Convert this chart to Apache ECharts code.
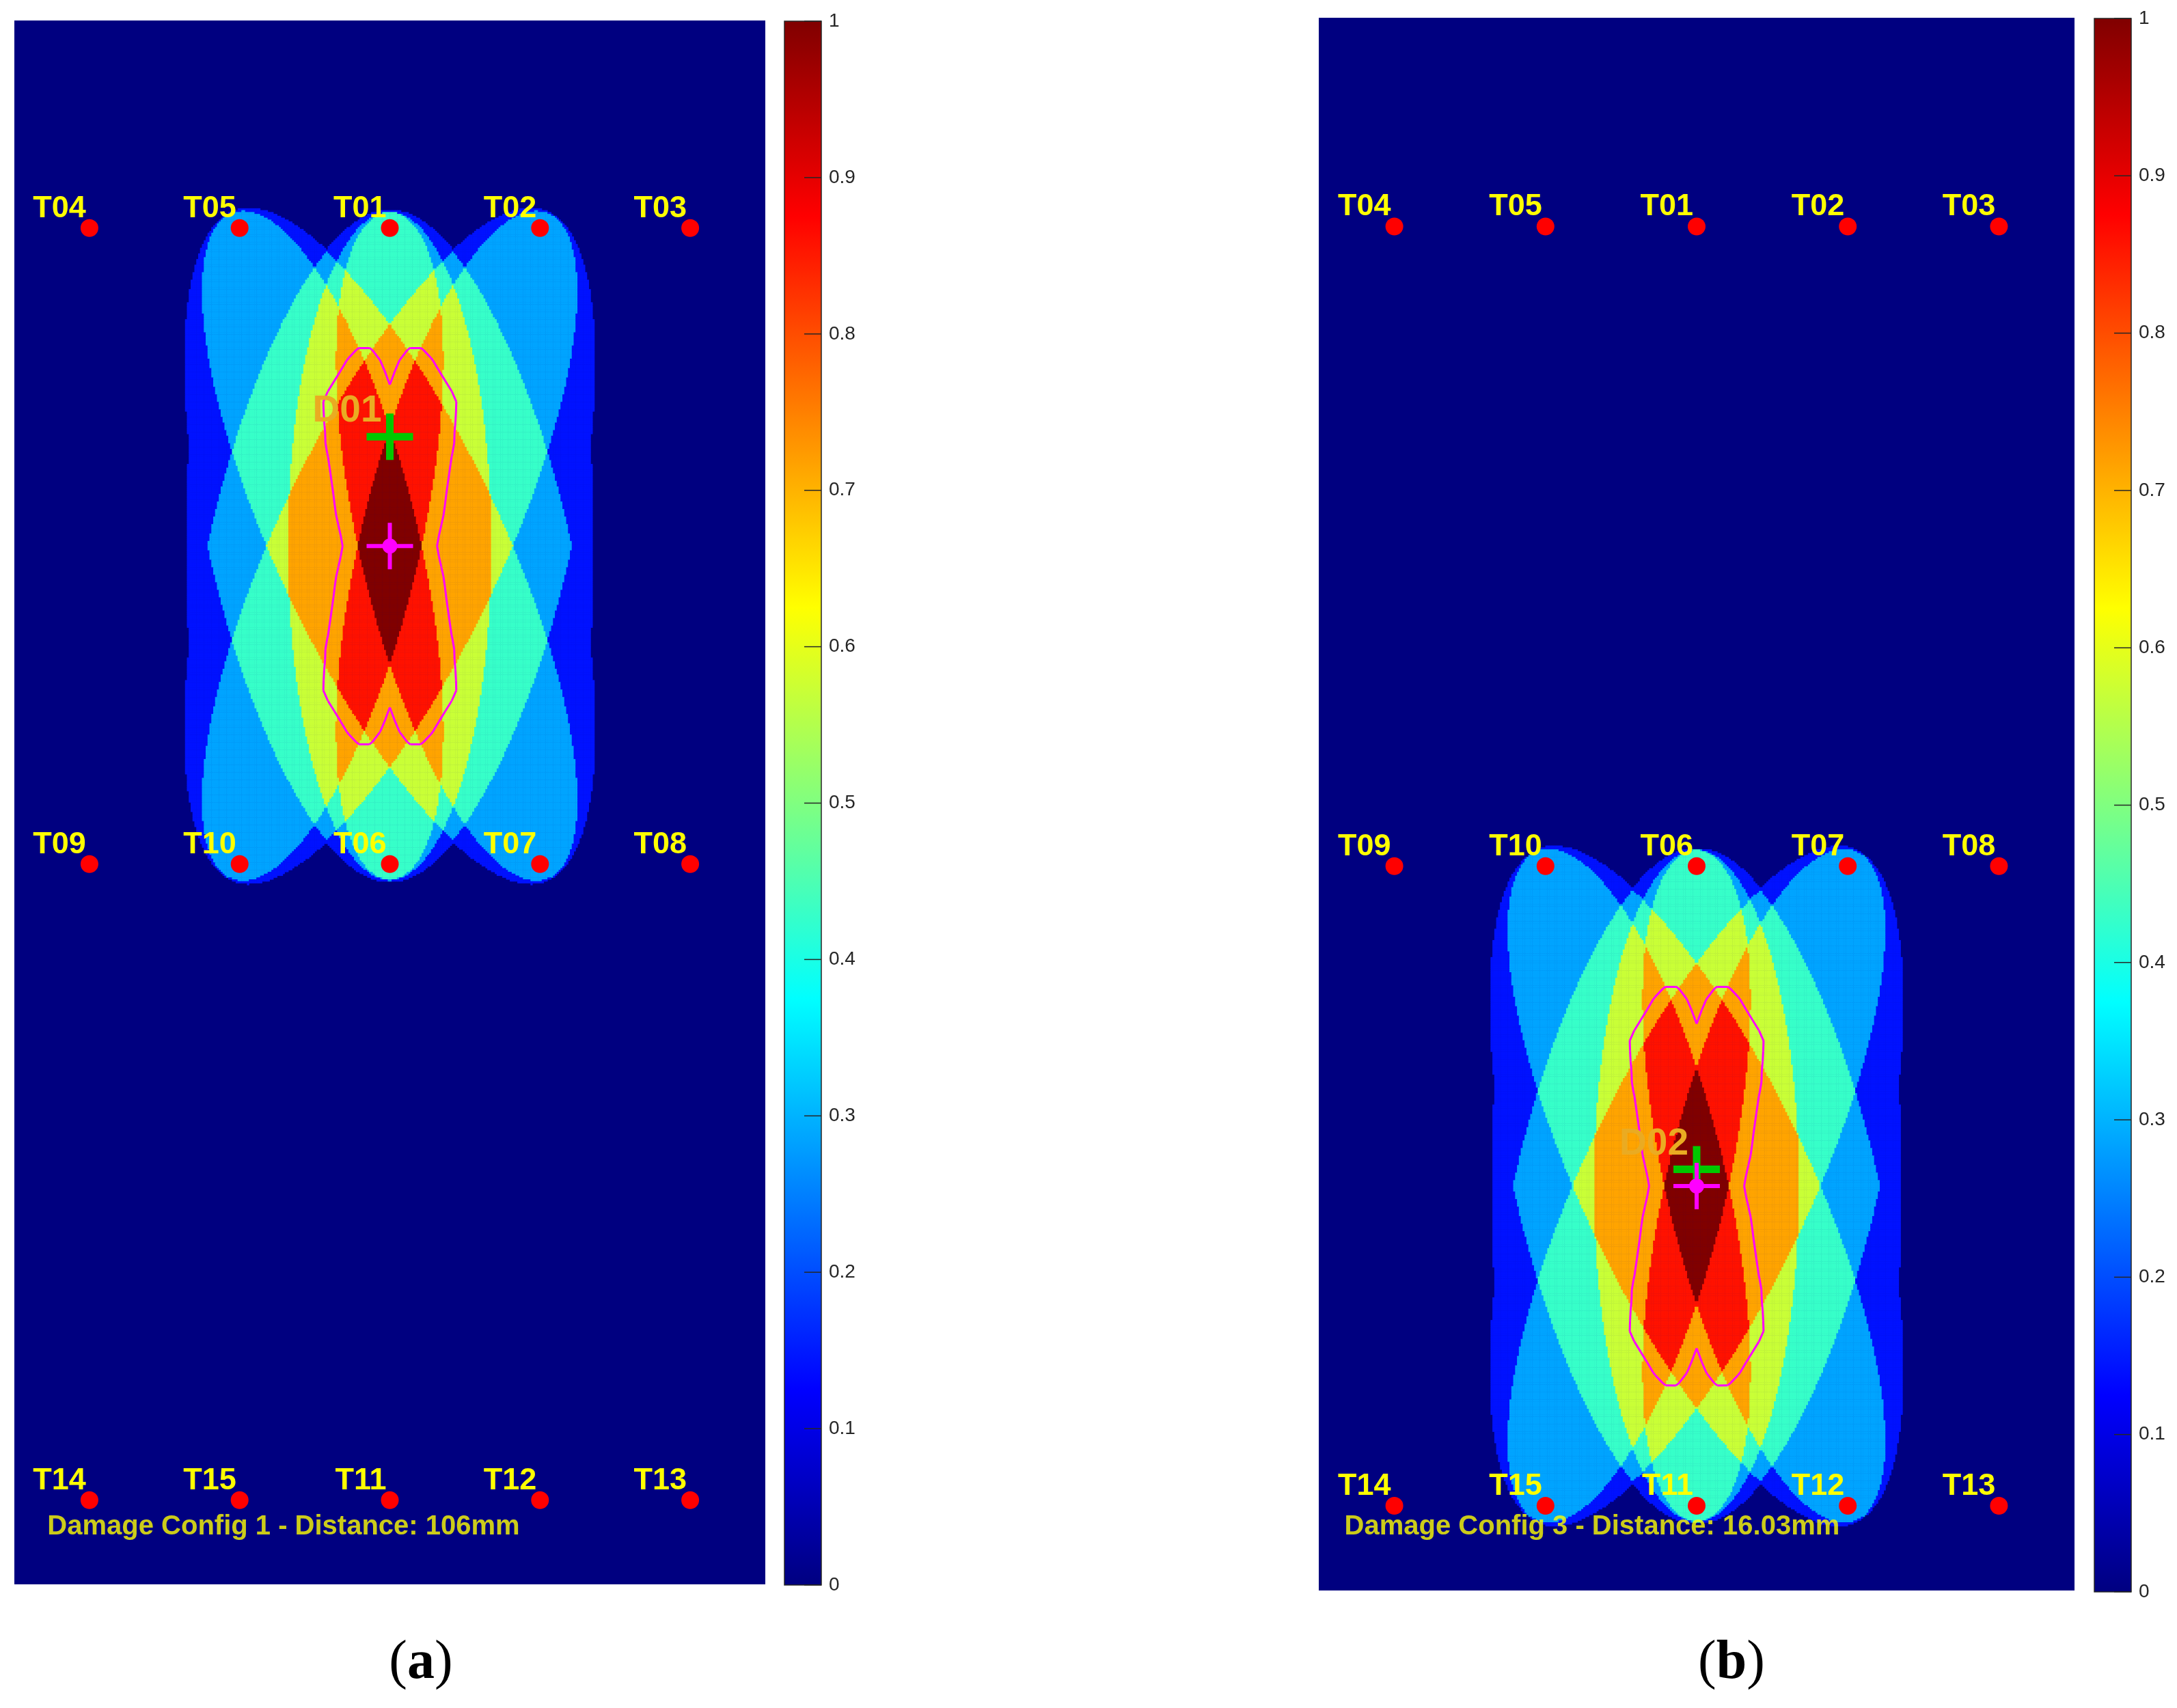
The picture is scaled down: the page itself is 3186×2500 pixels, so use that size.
<!DOCTYPE html>
<html>
<head>
<meta charset="utf-8">
<script src="https://cdn.jsdelivr.net/npm/echarts@6/dist/echarts.min.js"></script>
<style>
html, body { margin: 0; padding: 0; background: #fff; }
#main { width: 3186px; height: 2500px; }
</style>
</head>
<body>
<div id="main"></div>
<script>
// plate units: x 0..500, y 0..1040 (y runs downward)
var colX = [50, 150, 250, 350, 450];
var rowY = [138, 561, 984];
var tNames = [
    ['T04', 'T05', 'T01', 'T02', 'T03'],
    ['T09', 'T10', 'T06', 'T07', 'T08'],
    ['T14', 'T15', 'T11', 'T12', 'T13']
];
// paths flagged as damaged in each configuration
var pathsA = [['T01', 'T06'], ['T05', 'T06'], ['T02', 'T06'], ['T01', 'T10'], ['T01', 'T07'], ['T05', 'T07'], ['T02', 'T10']];
var pathsB = [['T06', 'T11'], ['T10', 'T11'], ['T07', 'T11'], ['T06', 'T15'], ['T06', 'T12'], ['T10', 'T12'], ['T07', 'T15']];
// neighbouring paths that only show as the faint outer fringe
var weakA = [['T05', 'T10'], ['T02', 'T07']];
var weakB = [['T10', 'T15'], ['T07', 'T12']];
var beta = 1.05;      // ellipse size of each damaged path
var betaRim = 1.052;  // thin fringe around damaged paths
var betaWeak = 1.014; // fringe from the neighbouring paths
var outlineLevel = 6; // outline drawn round the cells reaching 6/7
var outlineGap = 10;  // its distance from those cells
var damageA = [250, 276.8], estA = [250, 349.5];
var damageB = [250, 761.5], estB = [250, 772.5];
var noteA = 'Damage Config 1 - Distance: 106mm';
var noteB = 'Damage Config 3 - Distance: 16.03mm';
var tickLabels = ['0', '0.1', '0.2', '0.3', '0.4', '0.5', '0.6', '0.7', '0.8', '0.9', '1'];

var jet = ['#000080', '#0000ff', '#0080ff', '#00ffff', '#80ff80', '#ffff00', '#ff8000', '#ff0000', '#800000'];

var panels = [
    { plate: [21, 30, 1099, 2289], bar: [1148, 31, 54, 2289], paths: pathsA, weak: weakA, dmg: damageA, est: estA,
      dname: 'D01', note: noteA, noteAt: [22, 1001.7], cap: 'a', capX: 616 },
    { plate: [1930, 26, 1106, 2302], bar: [3065, 27, 54, 2303], paths: pathsB, weak: weakB, dmg: damageB, est: estB,
      dname: 'D02', note: noteB, noteAt: [17, 998], cap: 'b', capX: 2534 }
];

var cell = 1.25;
var nx = 500 / cell, ny = 1040 / cell;
var xCats = [], yCats = [];
for (var i = 0; i < nx; i++) xCats.push(i);
for (var j = 0; j < ny; j++) yCats.push(j);

function findT(name) {
    for (var r = 0; r < tNames.length; r++) {
        var c = tNames[r].indexOf(name);
        if (c >= 0) return [colX[c], rowY[r]];
    }
}

function ellipses(paths) {
    return paths.map(function (p) {
        var a = findT(p[0]), b = findT(p[1]);
        return { a: a, b: b, L: Math.hypot(b[0] - a[0], b[1] - a[1]) };
    });
}

function ratio(e, x, y) {
    return (Math.hypot(x - e.a[0], y - e.a[1]) + Math.hypot(x - e.b[0], y - e.b[1])) / e.L;
}

function countAt(ells, weak, x, y) {
    var n = 0, rim = 0;
    ells.forEach(function (e) {
        var r = ratio(e, x, y);
        if (r < beta) n++;
        else if (r < betaRim) rim = 1;
    });
    if (!n && !rim) {
        weak.forEach(function (e) { if (ratio(e, x, y) < betaWeak) rim = 1; });
    }
    return Math.max(n, rim);
}

function heatData(ells, weak) {
    var out = [];
    for (var j = 0; j < ny; j++) {
        for (var i = 0; i < nx; i++) {
            var v = countAt(ells, weak, (i + 0.5) * cell, (j + 0.5) * cell);
            if (v > 0) out.push([i, j, v / ells.length]);
        }
    }
    return out;
}

// outline at a fixed distance round the high region (marching squares on a coarse grid)
function outline(ells, cx, cy) {
    var g = 6.86, hx = 10, hy = 24, win = 14;
    // fine mask of the high region, 1 unit cells
    var mx0 = Math.floor(cx - hx * g - win - 2), my0 = Math.floor(cy - hy * g - win - 2);
    var mw = Math.ceil(2 * (hx * g + win + 2)), mh = Math.ceil(2 * (hy * g + win + 2));
    var mask = new Uint8Array(mw * mh);
    for (var j = 0; j < mh; j++) {
        for (var i = 0; i < mw; i++) {
            if (countAt(ells, [], mx0 + i + 0.5, my0 + j + 0.5) >= outlineLevel) mask[j * mw + i] = 1;
        }
    }
    function dist(x, y) {
        var ci = Math.floor(x - mx0), cj = Math.floor(y - my0), best = win;
        for (var dj = -win; dj <= win; dj++) {
            for (var di = -win; di <= win; di++) {
                var ii = ci + di, jj = cj + dj;
                if (ii < 0 || jj < 0 || ii >= mw || jj >= mh || !mask[jj * mw + ii]) continue;
                var d = Math.hypot(mx0 + ii + 0.5 - x, my0 + jj + 0.5 - y);
                if (d < best) best = d;
            }
        }
        return best;
    }
    var x0 = cx - hx * g, y0 = cy - hy * g;
    var v = [];
    for (var j = 0; j <= 2 * hy; j++) {
        v.push([]);
        for (var i = 0; i <= 2 * hx; i++) v[j].push(outlineGap - dist(x0 + i * g, y0 + j * g));
    }
    function lerp(p, q, a, b) {
        var t = a / (a - b);
        return [p[0] + t * (q[0] - p[0]), p[1] + t * (q[1] - p[1])];
    }
    var segs = [];
    for (var j = 0; j < 2 * hy; j++) {
        for (var i = 0; i < 2 * hx; i++) {
            var P = [[x0 + i * g, y0 + j * g], [x0 + (i + 1) * g, y0 + j * g],
                     [x0 + (i + 1) * g, y0 + (j + 1) * g], [x0 + i * g, y0 + (j + 1) * g]];
            var V = [v[j][i], v[j][i + 1], v[j + 1][i + 1], v[j + 1][i]];
            var pts = [];
            for (var k = 0; k < 4; k++) {
                var k2 = (k + 1) % 4;
                if ((V[k] > 0) !== (V[k2] > 0)) pts.push(lerp(P[k], P[k2], V[k], V[k2]));
            }
            if (pts.length === 2) segs.push({ coords: [pts[0], pts[1]] });
            else if (pts.length === 4) {
                var c = (V[0] + V[1] + V[2] + V[3]) / 4 > 0;
                if (c === (V[0] > 0)) {
                    segs.push({ coords: [pts[0], pts[1]] });
                    segs.push({ coords: [pts[2], pts[3]] });
                } else {
                    segs.push({ coords: [pts[3], pts[0]] });
                    segs.push({ coords: [pts[1], pts[2]] });
                }
            }
        }
    }
    return segs;
}

var sensorData = [];
tNames.forEach(function (row, r) {
    row.forEach(function (n, c) { sensorData.push({ name: n, value: [colX[c], rowY[r]] }); });
});

var barStops = jet.map(function (c, k) { return { offset: k / (jet.length - 1), color: c }; });
var tickData = tickLabels.map(function (t) { return [1 - 12.5 / 54, parseFloat(t)]; });

var grids = [], xAxes = [], yAxes = [], series = [], visualMaps = [], graphics = [];
var txtFont = 'Liberation Sans';

panels.forEach(function (pn, p) {
    var pl = pn.plate, br = pn.bar;
    grids.push({ left: pl[0], top: pl[1], width: pl[2], height: pl[3], show: true,
                 backgroundColor: '#000080', borderWidth: 0 });
    grids.push({ left: pl[0], top: pl[1], width: pl[2], height: pl[3] });
    grids.push({ left: br[0], top: br[1], width: br[2], height: br[3], show: true,
                 backgroundColor: new echarts.graphic.LinearGradient(0, 1, 0, 0, barStops),
                 borderColor: '#262626', borderWidth: 1.5 });

    xAxes.push({ gridIndex: 3 * p, type: 'category', data: xCats, show: false });
    yAxes.push({ gridIndex: 3 * p, type: 'category', data: yCats, inverse: true, show: false });
    xAxes.push({ gridIndex: 3 * p + 1, type: 'value', min: 0, max: 500, show: false });
    yAxes.push({ gridIndex: 3 * p + 1, type: 'value', min: 0, max: 1040, inverse: true, show: false });
    xAxes.push({ gridIndex: 3 * p + 2, type: 'value', min: 0, max: 1, show: false });
    yAxes.push({
        gridIndex: 3 * p + 2, type: 'value', min: 0, max: 1, interval: 0.1, position: 'right',
        axisLine: { show: false },
        splitLine: { show: false },
        axisTick: { show: false },
        axisLabel: {
            show: true, margin: 11, fontSize: 28, color: '#262626', fontFamily: txtFont,
            formatter: function (v) { return tickLabels[Math.round(v * 10)]; }
        }
    });

    visualMaps.push({
        type: 'continuous', seriesIndex: p, min: 0, max: 1, dimension: 2, show: false,
        inRange: { color: jet }
    });

    graphics.push({
        type: 'text', x: pn.capX, y: 2435, z: 20,
        style: {
            text: '{p|(}{b|' + pn.cap + '}{p|)}', align: 'center', verticalAlign: 'middle',
            rich: {
                p: { fontFamily: 'Liberation Serif', fontSize: 80, fill: '#000' },
                b: { fontFamily: 'Liberation Serif', fontSize: 80, fontWeight: 'bold', fill: '#000' }
            }
        }
    });
});

// heatmaps first so that their indices are 0 and 1
panels.forEach(function (pn, p) {
    series.push({
        type: 'heatmap', xAxisIndex: 3 * p, yAxisIndex: 3 * p,
        data: heatData(ellipses(pn.paths), ellipses(pn.weak)),
        progressive: 0, silent: true, emphasis: { disabled: true }
    });
});

panels.forEach(function (pn, p) {
    var ax = 3 * p + 1;
    var ells = ellipses(pn.paths);
    series.push({
        type: 'lines', coordinateSystem: 'cartesian2d', xAxisIndex: ax, yAxisIndex: ax,
        data: outline(ells, pn.est[0], pn.est[1]), silent: true, z: 4,
        lineStyle: { color: '#ff00ff', width: 3, opacity: 1 }
    });
    series.push({
        type: 'scatter', xAxisIndex: ax, yAxisIndex: ax, data: sensorData, z: 5,
        symbol: 'circle', symbolSize: 26, itemStyle: { color: '#ff0000', opacity: 1 }, silent: true,
        label: {
            show: true, formatter: '{b}', position: [8, -15.5], align: 'right', verticalAlign: 'middle',
            color: '#ffff00', fontSize: 45, fontWeight: 'bold', fontFamily: txtFont
        }
    });
    series.push({
        type: 'scatter', xAxisIndex: ax, yAxisIndex: ax, z: 6, silent: true,
        data: [{ name: pn.dname, value: pn.dmg }],
        symbol: 'path://M28.5,0H39.5V28.5H68V39.5H39.5V68H28.5V39.5H0V28.5H28.5Z', symbolSize: 68,
        itemStyle: { color: '#00c800', opacity: 1 },
        label: {
            show: true, formatter: '{b}', position: [22, -3], align: 'right', verticalAlign: 'middle',
            color: '#eaab22', fontSize: 55, fontWeight: 'bold', fontFamily: txtFont
        }
    });
    series.push({
        type: 'scatter', xAxisIndex: ax, yAxisIndex: ax, z: 6, silent: true,
        data: [pn.est],
        symbol: 'path://M31,0H37V31H68V37H37V68H31V37H0V31H31Z', symbolSize: 68,
        itemStyle: { color: '#ff00ff', opacity: 1 }
    });
    series.push({
        type: 'scatter', xAxisIndex: ax, yAxisIndex: ax, z: 6, silent: true,
        data: [pn.est], symbol: 'circle', symbolSize: 22, itemStyle: { color: '#ff00ff', opacity: 1 }
    });
    series.push({
        type: 'scatter', xAxisIndex: ax, yAxisIndex: ax, z: 6, silent: true,
        data: [{ name: pn.note, value: pn.noteAt }], symbolSize: 0,
        label: {
            show: true, formatter: '{b}', position: [0, 0], align: 'left', verticalAlign: 'middle',
            color: '#ffff00', fontSize: 40, fontWeight: 'bold', fontFamily: txtFont
        }
    });
    // colour bar tick marks, drawn on the inner right edge
    series.push({
        type: 'scatter', xAxisIndex: 3 * p + 2, yAxisIndex: 3 * p + 2, z: 6, silent: true,
        data: tickData, symbol: 'rect', symbolSize: [25, 1.5], itemStyle: { color: '#262626', opacity: 1 }
    });
});

var chart = echarts.init(document.getElementById('main'));
chart.setOption({
    animation: false,
    backgroundColor: '#ffffff',
    grid: grids,
    xAxis: xAxes,
    yAxis: yAxes,
    visualMap: visualMaps,
    series: series,
    graphic: graphics
});
</script>
</body>
</html>
